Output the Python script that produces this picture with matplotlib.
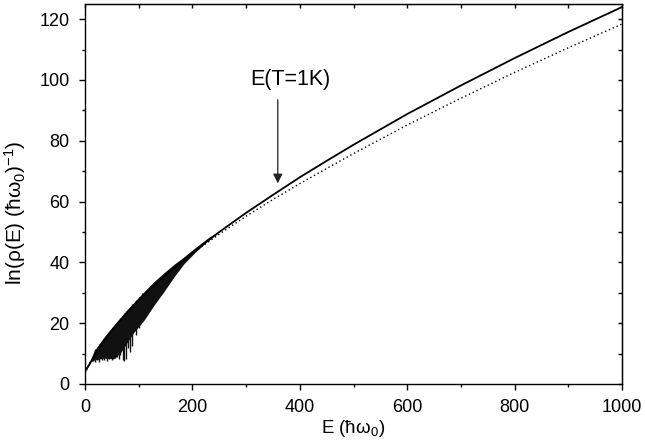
import numpy as np
import matplotlib
matplotlib.use("Agg")
import matplotlib.pyplot as plt
from matplotlib.ticker import MultipleLocator

plt.rcParams['font.family'] = ['Liberation Sans', 'DejaVu Sans']
plt.rcParams['mathtext.fontset'] = 'custom'
plt.rcParams['mathtext.rm'] = 'Liberation Sans'
plt.rcParams['mathtext.it'] = 'Liberation Sans:italic'

# smooth level density (solid) and approximation (dotted)
E_smooth = [0, 5, 10, 20, 30, 40, 60, 80, 100, 125, 150, 175, 200, 250, 300,
            350, 400, 450, 500, 600, 700, 800, 900, 1000]
ln_rho = [4.5, 5.5, 7.0, 10.3, 13.2, 15.6, 19.9, 23.8, 27.6, 31.8, 35.8, 39.6,
          43.2, 50.0, 56.3, 62.2, 68.0, 73.4, 78.7, 88.8, 98.2, 107.2, 115.8, 124.0]
E_approx = [0, 50, 100, 150, 200, 250, 300, 350, 400, 450, 500, 600, 700, 800, 900, 1000]
ln_rho_approx = [4.5, 17.8, 27.5, 35.7, 43.0, 49.3, 55.2, 60.7, 65.9, 70.9,
                 75.8, 85.2, 94.0, 102.5, 110.6, 118.4]

# fluctuating exact density at low energy: band envelope and downward spikes
band_E = [2, 8, 17, 35, 54, 67, 78, 91, 110, 128, 147, 166, 184, 205, 230, 250]
band_high = [5.0, 6.5, 11.0, 14.8, 19.0, 21.9, 24.3, 26.8, 30.4, 33.6, 36.6,
             39.4, 41.8, 44.8, 48.2, 50.2]
band_low = [4.0, 7.0, 7.9, 8.5, 8.3, 10.5, 13.5, 17.0, 21.0, 25.8, 30.4, 35.3,
            39.5, 43.3, 47.3, 50.0]
spike_E = [10, 14, 19, 23, 27, 31, 36, 41, 45, 50, 55, 59, 63, 66, 70, 73, 76,
           80, 84, 88, 95, 101, 107]
spike_low = [7.0, 7.5, 7.2, 7.8, 7.4, 7.9, 8.0, 7.6, 8.2, 7.8, 8.4, 9.0, 8.2,
             9.5, 8.0, 7.5, 8.3, 12.0, 10.5, 12.5, 16.0, 18.5, 21.0]

fig = plt.figure(figsize=(6.45, 4.45), dpi=100)
ax = fig.add_axes([85 / 645, 1 - 384 / 445, 537 / 645, 380 / 445])

ax.fill_between(band_E, band_low, band_high, color='#111111', lw=0)
spike_top = np.interp(spike_E, band_E, band_high)
ax.vlines(spike_E, spike_low, spike_top, color='#111111', lw=1.0)

ax.plot(E_approx, ln_rho_approx, color='black', lw=1.0, ls=(0, (1, 2)))
ax.plot(E_smooth, ln_rho, color='black', lw=1.3)

# label and vertical arrow pointing at E(T=1K)
ax.text(382, 100, 'E(T=1K)', fontsize=15.5, ha='center', va='center')
ax.annotate('', xy=(359, 66), xytext=(359, 93.5),
            arrowprops=dict(arrowstyle='-|>', color='#222222', lw=0.9,
                            mutation_scale=14, shrinkA=0, shrinkB=0))

ax.set_xlim(0, 1000)
ax.set_ylim(0, 125)
ax.xaxis.set_major_locator(MultipleLocator(200))
ax.xaxis.set_minor_locator(MultipleLocator(100))
ax.yaxis.set_major_locator(MultipleLocator(20))
ax.yaxis.set_minor_locator(MultipleLocator(10))
ax.tick_params(which='major', direction='out', length=4.5, width=1, labelsize=13, pad=6.5)
ax.tick_params(which='minor', direction='out', length=2.5, width=1)

# inward ticks on top and right
top = ax.secondary_xaxis('top')
top.xaxis.set_major_locator(MultipleLocator(100))
top.tick_params(direction='in', length=3, width=1, labeltop=False)
right = ax.secondary_yaxis('right')
right.yaxis.set_major_locator(MultipleLocator(10))
right.tick_params(direction='in', length=3, width=1, labelright=False)

for s in ax.spines.values():
    s.set_linewidth(1)

ax.set_xlabel('E (ħω$_0$)', fontsize=13.5, labelpad=1)
ax.set_ylabel('ln(ρ(E) (ħω$_0$)$^{-1}$)', fontsize=15)
ax.yaxis.set_label_coords(-0.106, 0.45)

fig.savefig('out.png', dpi=100)
